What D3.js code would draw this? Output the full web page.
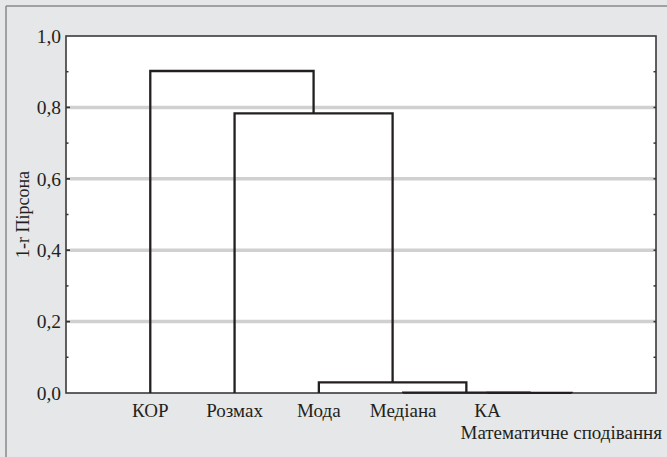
<!DOCTYPE html>
<html>
<head>
<meta charset="utf-8">
<script src="https://cdn.jsdelivr.net/npm/d3@7/dist/d3.min.js"></script>
<style>
  html, body { margin: 0; padding: 0; background: #fff; }
  svg { display: block; }
</style>
</head>
<body>
<svg id="chart" width="667" height="457"></svg>
<script>
// ---- data ----
const leaves = ["КОР", "Розмах", "Мода", "Медіана", "КА", "Математичне сподівання"];
// merges: nodes 0..5 are leaves, merge k creates node 6+k
const mergeLeft   = [4, 3, 2, 1, 0];
const mergeRight  = [5, 6, 7, 8, 9];
const mergeHeight = [0.0005, 0.001, 0.03, 0.783, 0.902];
const yTickValues = [0, 0.2, 0.4, 0.6, 0.8, 1.0];
const yTickLabels = ["0,0", "0,2", "0,4", "0,6", "0,8", "1,0"];
const yMinorValues = [0.1, 0.3, 0.5, 0.7, 0.9];
const yTitle = "1-r Пірсона";

// ---- layout ----
const FONT = "'Liberation Serif', 'Times New Roman', Times, 'DejaVu Serif', serif";
const W = 667, H = 457;
const plot = { left: 66, right: 656, top: 36, bottom: 393 };
const svg = d3.select("#chart");

// background panel
svg.append("rect").attr("x", 0).attr("y", 0).attr("width", W).attr("height", H).attr("fill", "#e6e7e8");
svg.append("line").attr("x1", 6).attr("x2", W).attr("y1", 6).attr("y2", 6).attr("stroke", "#8a8a8a").attr("stroke-width", 1.5);
svg.append("line").attr("x1", 6).attr("x2", 6).attr("y1", 6).attr("y2", H).attr("stroke", "#8a8a8a").attr("stroke-width", 1.5);

// plot area
svg.append("rect").attr("x", plot.left).attr("y", plot.top)
  .attr("width", plot.right - plot.left).attr("height", plot.bottom - plot.top)
  .attr("fill", "#ffffff");

const x = d3.scalePoint().domain(d3.range(leaves.length)).range([plot.left, plot.right]).padding(1);
const y = d3.scaleLinear().domain([0, 1]).range([plot.bottom, plot.top]);

// gridlines
svg.append("g").selectAll("line").data(yTickValues.filter(v => v > 0 && v < 1)).join("line")
  .attr("x1", plot.left + 4).attr("x2", plot.right).attr("y1", d => y(d)).attr("y2", d => y(d))
  .attr("stroke", "#d0d0d0").attr("stroke-width", 3.5);

// axis left
const yAxis = d3.axisLeft(y).tickValues(yTickValues).tickFormat((d, i) => yTickLabels[i]).tickSize(0).tickPadding(5);
const gy = svg.append("g").attr("transform", `translate(${plot.left},0)`).call(yAxis)
  .attr("font-family", FONT).attr("font-size", 19.5);
gy.select(".domain").remove();
gy.selectAll("text").attr("font-family", FONT).attr("font-size", 19.5).attr("fill", "#231f20");

// major tick marks (inside)
svg.append("g").selectAll("line").data(yTickValues.filter(v => v > 0 && v < 1)).join("line")
  .attr("x1", plot.left).attr("x2", plot.left + 4).attr("y1", d => y(d)).attr("y2", d => y(d))
  .attr("stroke", "#333").attr("stroke-width", 2);
// minor ticks
svg.append("g").selectAll("line").data(yMinorValues).join("line")
  .attr("x1", plot.left).attr("x2", plot.left + 2.5).attr("y1", d => y(d)).attr("y2", d => y(d))
  .attr("stroke", "#333").attr("stroke-width", 1.5);
svg.append("g").selectAll("line").data(yMinorValues.concat(yTickValues.filter(v => v > 0 && v < 1))).join("line")
  .attr("x1", plot.right - 2.5).attr("x2", plot.right).attr("y1", d => y(d)).attr("y2", d => y(d))
  .attr("stroke", "#333").attr("stroke-width", 1.5);

// plot border
svg.append("rect").attr("x", plot.left).attr("y", plot.top)
  .attr("width", plot.right - plot.left).attr("height", plot.bottom - plot.top)
  .attr("fill", "none").attr("stroke", "#3a3a3a").attr("stroke-width", 1.6);

// dendrogram links
const nodeX = leaves.map((_, i) => x(i));
const nodeH = leaves.map(() => 0);
const paths = [];
mergeLeft.forEach((l, k) => {
  const r = mergeRight[k], h = mergeHeight[k];
  paths.push(`M${nodeX[l]},${y(nodeH[l])}V${y(h)}H${nodeX[r]}V${y(nodeH[r])}`);
  nodeX.push((nodeX[l] + nodeX[r]) / 2);
  nodeH.push(h);
});
svg.append("g").selectAll("path").data(paths).join("path")
  .attr("d", d => d).attr("fill", "none").attr("stroke", "#231f20").attr("stroke-width", 2.3);

// x labels
const gx = svg.append("g");
leaves.forEach((name, i) => {
  const last = i === leaves.length - 1;
  gx.append("text")
    .attr("x", last ? W - 5 : x(i))
    .attr("y", last ? 439 : 417)
    .attr("text-anchor", last ? "end" : "middle")
    .attr("font-family", FONT)
    .attr("font-size", 19)
    .attr("fill", "#231f20")
    .text(name);
});

// y title
svg.append("text")
  .attr("transform", `translate(29,${(plot.top + plot.bottom) / 2}) rotate(-90)`)
  .attr("text-anchor", "middle")
  .attr("font-family", FONT)
  .attr("font-size", 18)
  .attr("fill", "#231f20")
  .text(yTitle);
</script>
</body>
</html>
